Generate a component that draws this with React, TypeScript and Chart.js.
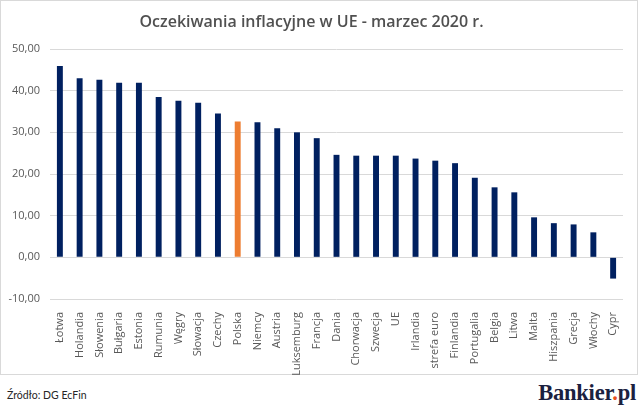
import React, { useEffect, useRef } from "react";
import { Chart, registerables } from "chart.js";

Chart.register(...registerables);

const title = "Oczekiwania inflacyjne w UE - marzec 2020 r.";
const categories = [
  "Łotwa", "Holandia", "Słowenia", "Bułgaria", "Estonia", "Rumunia", "Węgry",
  "Słowacja", "Czechy", "Polska", "Niemcy", "Austria", "Luksemburg", "Francja",
  "Dania", "Chorwacja", "Szwecja", "UE", "Irlandia", "strefa euro", "Finlandia",
  "Portugalia", "Belgia", "Litwa", "Malta", "Hiszpania", "Grecja", "Włochy", "Cypr",
];
const values = [
  45.9, 43.0, 42.6, 41.9, 41.9, 38.5, 37.6,
  37.1, 34.5, 32.6, 32.4, 31.0, 30.0, 28.6,
  24.6, 24.4, 24.4, 24.4, 23.7, 23.2, 22.6,
  19.1, 16.8, 15.6, 9.6, 8.2, 7.9, 6.0, -5.1,
];
const highlighted = "Polska";
const yMin = -10;
const yMax = 50;
const yStep = 10;
const sourceText = "Źródło: DG EcFin";

const NAVY = "#002060";
const ORANGE = "#ED7D31";
const GRAY_TEXT = "#595959";
const GRID = "#d9d9d9";

export default function App() {
  const canvasRef = useRef<HTMLCanvasElement | null>(null);

  useEffect(() => {
    const canvas = canvasRef.current;
    if (!canvas) return;
    const chart = new Chart(canvas, {
      type: "bar",
      data: {
        labels: categories,
        datasets: [
          {
            data: values,
            backgroundColor: categories.map((c) => (c === highlighted ? ORANGE : NAVY)),
            barPercentage: 0.6,
            categoryPercentage: 0.5,
          },
        ],
      },
      options: {
        animation: false,
        responsive: false,
        maintainAspectRatio: false,
        devicePixelRatio: 1,
        layout: { padding: { left: 0, right: 17, top: 0, bottom: 0 } },
        plugins: {
          legend: { display: false },
          tooltip: { enabled: false },
          title: {
            display: true,
            text: title,
            color: "#505050",
            font: { family: "'Open Sans'", size: 16, weight: "600", lineHeight: 1.125 },
            padding: { top: 13, bottom: 18 },
          },
        },
        scales: {
          x: {
            grid: { display: false },
            border: { display: false },
            ticks: {
              color: GRAY_TEXT,
              font: { family: "'Open Sans'", size: 11 },
              minRotation: 90,
              maxRotation: 90,
              autoSkip: false,
              padding: 5,
            },
            afterFit: (scale: any) => {
              scale.height = 76;
            },
          },
          y: {
            min: yMin,
            max: yMax,
            grid: { color: GRID, drawTicks: false, lineWidth: 1 },
            border: { display: false },
            ticks: {
              stepSize: yStep,
              color: GRAY_TEXT,
              font: { family: "'Open Sans'", size: 11 },
              padding: 10,
              callback: (v: any) => Number(v).toFixed(2).replace(".", ","),
            },
            afterFit: (scale: any) => {
              scale.width = 50;
            },
          },
        },
      },
    });
    return () => chart.destroy();
  }, []);

  return (
    <div
      style={{
        position: "fixed",
        left: 0,
        top: 0,
        width: 640,
        height: 410,
        background: "#ffffff",
        overflow: "hidden",
      }}
    >
      <div
        style={{
          position: "absolute",
          left: 0,
          top: 0,
          width: 638,
          height: 375,
          boxSizing: "border-box",
          border: "1px solid " + GRID,
        }}
      />
      <canvas
        ref={canvasRef}
        width={640}
        height={375}
        style={{ position: "absolute", left: 0, top: 0, width: 640, height: 375 }}
      />
      <div
        style={{
          position: "absolute",
          left: 7,
          top: 388,
          fontFamily: "Lato, 'Open Sans', sans-serif",
          fontSize: 10.5,
          color: "#262626",
          lineHeight: "14px",
          whiteSpace: "nowrap",
        }}
      >
        {sourceText}
      </div>
      <div
        style={{
          position: "absolute",
          right: 4,
          top: 380,
          fontFamily: "'Liberation Serif', serif",
          fontWeight: 700,
          fontSize: 22.5,
          color: "#1b2140",
          lineHeight: "26px",
          whiteSpace: "nowrap",
          letterSpacing: -0.2,
        }}
      >
        Bankier<span style={{ color: "#e8501e" }}>.</span>pl
      </div>
    </div>
  );
}
